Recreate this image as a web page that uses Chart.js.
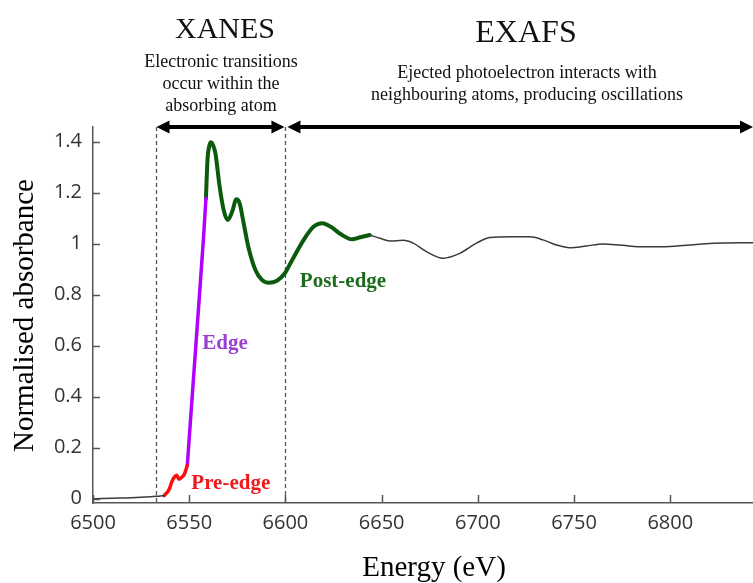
<!DOCTYPE html>
<html>
<head>
<meta charset="utf-8">
<title>XANES and EXAFS regions</title>
<script src="https://cdn.jsdelivr.net/npm/chart.js@4.4.1/dist/chart.umd.min.js"></script>
<style>
  html, body { margin: 0; padding: 0; background: #fff; }
  #wrap { width: 753px; height: 583px; }
</style>
</head>
<body>
<div id="wrap"><canvas id="xasChart" width="753" height="583"></canvas></div>
<script>
// Normalised absorbance vs energy (eV), split into the coloured regions of the spectrum
const baselineEnergy = [6500, 6510, 6520, 6530, 6535, 6537];
const baselineAbs    = [0.000, 0.002, 0.004, 0.008, 0.011, 0.012];

const preEdgeEnergy = [6537, 6539.6, 6540.8, 6542.2, 6543.5, 6544.7, 6546.1, 6547.4, 6549.0];
const preEdgeAbs    = [0.012, 0.037, 0.063, 0.084, 0.092, 0.076, 0.084, 0.095, 0.130];

const edgeEnergy = [6549.0, 6550.6, 6552.4, 6554.2, 6556.0, 6557.4, 6558.7];
const edgeAbs    = [0.130, 0.300, 0.490, 0.680, 0.870, 1.020, 1.178];

const postEdgeEnergy = [6558.7, 6559.5, 6560.5, 6561.3, 6562.2, 6563.6, 6565.8, 6567.9, 6570.0,
                        6572.3, 6574.5, 6576.2, 6578.3, 6580.9, 6584.4, 6587.8, 6591.3, 6595.6,
                        6599.7, 6602.6, 6609.5, 6614.7, 6619.1, 6623.4, 6628.6, 6634.6, 6638.9, 6643.8];
const postEdgeAbs    = [1.178, 1.328, 1.385, 1.398, 1.390, 1.355, 1.224, 1.132, 1.093,
                        1.125, 1.174, 1.158, 1.080, 0.982, 0.897, 0.858, 0.847, 0.855,
                        0.884, 0.923, 1.015, 1.067, 1.080, 1.067, 1.038, 1.017, 1.025, 1.034];

const tailEnergy = [6643.8, 6649.1, 6654.3, 6661.2, 6666.4, 6673.3, 6682.0, 6690.6, 6699.3, 6706.2,
                    6718.3, 6727.0, 6733.9, 6740.8, 6747.8, 6756.4, 6765.1, 6773.7, 6784.2, 6796.3,
                    6808.4, 6822.3, 6843.0];
const tailAbs    = [1.034, 1.021, 1.011, 1.013, 1.002, 0.969, 0.943, 0.962, 1.002, 1.024,
                    1.027, 1.027, 1.015, 0.995, 0.984, 0.991, 0.999, 0.995, 0.988, 0.988,
                    0.994, 1.002, 1.004];

const xTicks = [6500, 6550, 6600, 6650, 6700, 6750, 6800];
const yTicks = [0, 0.2, 0.4, 0.6, 0.8, 1, 1.2, 1.4];

// XANES runs between the two dashed lines, EXAFS from the second one onwards
const regionBounds = [6533, 6600];

const regionLabels = ['Pre-edge', 'Edge', 'Post-edge'];
const regionLabelEnergy = [6551.1, 6556.8, 6607.5];
const regionLabelAbs = [0.038, 0.587, 0.831];
const regionLabelColors = ['#f01818', '#9a3fd0', '#1d6b1d'];

function points(xs, ys) {
    return xs.map((x, i) => ({ x: x, y: ys[i] }));
}

function drawArrow(ctx, x1, x2, y) {
    const head = 13, half = 6.5;
    ctx.beginPath();
    ctx.moveTo(x1 + head - 2, y);
    ctx.lineTo(x2 - head + 2, y);
    ctx.stroke();
    ctx.beginPath();
    ctx.moveTo(x1, y);
    ctx.lineTo(x1 + head, y - half);
    ctx.lineTo(x1 + head, y + half);
    ctx.closePath();
    ctx.fill();
    ctx.beginPath();
    ctx.moveTo(x2, y);
    ctx.lineTo(x2 - head, y - half);
    ctx.lineTo(x2 - head, y + half);
    ctx.closePath();
    ctx.fill();
}

const decorations = {
    id: 'decorations',
    beforeDatasetsDraw(chart) {
        const { ctx, chartArea, scales: { x } } = chart;
        ctx.save();
        ctx.strokeStyle = '#555';
        ctx.lineWidth = 1.3;
        ctx.setLineDash([4, 3]);
        regionBounds.forEach(e => {
            const px = Math.round(x.getPixelForValue(e)) + 0.5;
            ctx.beginPath();
            ctx.moveTo(px, chartArea.top);
            ctx.lineTo(px, chartArea.bottom);
            ctx.stroke();
        });
        ctx.restore();
    },
    afterDraw(chart) {
        const { ctx, chartArea, scales: { x, y } } = chart;
        ctx.save();

        // short inward tick marks
        ctx.strokeStyle = '#555';
        ctx.lineWidth = 1.5;
        xTicks.forEach(v => {
            const px = Math.round(x.getPixelForValue(v)) + 0.5;
            ctx.beginPath();
            ctx.moveTo(px, chartArea.bottom);
            ctx.lineTo(px, chartArea.bottom - 8);
            ctx.stroke();
        });
        yTicks.forEach(v => {
            const py = Math.round(y.getPixelForValue(v)) + 0.5;
            ctx.beginPath();
            ctx.moveTo(chartArea.left, py);
            ctx.lineTo(chartArea.left + 7, py);
            ctx.stroke();
        });

        // region arrows along the top
        ctx.strokeStyle = '#000';
        ctx.fillStyle = '#000';
        ctx.lineWidth = 4;
        const ay = chartArea.top;
        const xa = x.getPixelForValue(regionBounds[0]);
        const xb = x.getPixelForValue(regionBounds[1]);
        drawArrow(ctx, xa, xb - 1, ay);
        drawArrow(ctx, xb + 2, chartArea.right, ay);

        // headings
        ctx.fillStyle = '#111';
        ctx.textAlign = 'center';
        ctx.textBaseline = 'alphabetic';
        ctx.font = '30px "Liberation Serif"';
        ctx.fillText('XANES', 225, 38);
        ctx.font = '32px "Liberation Serif"';
        ctx.fillText('EXAFS', 526, 42);
        ctx.font = '18px "Liberation Serif"';
        ctx.fillText('Electronic transitions', 221, 67);
        ctx.fillText('occur within the', 221, 89);
        ctx.fillText('absorbing atom', 221, 111);
        ctx.fillText('Ejected photoelectron interacts with', 527, 78);
        ctx.fillText('neighbouring atoms, producing oscillations', 527, 100);

        // region names beside the curve
        ctx.textAlign = 'left';
        ctx.font = 'bold 21px "Liberation Serif"';
        regionLabels.forEach((t, i) => {
            ctx.fillStyle = regionLabelColors[i];
            ctx.fillText(t, x.getPixelForValue(regionLabelEnergy[i]), y.getPixelForValue(regionLabelAbs[i]));
        });

        // axis titles
        ctx.fillStyle = '#000';
        ctx.textAlign = 'center';
        ctx.font = '29px "Liberation Serif"';
        ctx.fillText('Energy (eV)', 434, 576);
        ctx.translate(33, 315.5);
        ctx.rotate(-Math.PI / 2);
        ctx.font = '29px "Liberation Serif"';
        ctx.fillText('Normalised absorbance', 0, 0);
        ctx.restore();
    }
};

const tickFont = { family: '"Open Sans"', size: 20 };

new Chart(document.getElementById('xasChart'), {
    type: 'line',
    data: {
        datasets: [
            { data: points(baselineEnergy, baselineAbs), borderColor: '#3a3a3a', borderWidth: 1.5 },
            { data: points(tailEnergy, tailAbs), borderColor: '#3a3a3a', borderWidth: 1.5 },
            { data: points(preEdgeEnergy, preEdgeAbs), borderColor: '#ff0d0d', borderWidth: 3.5 },
            { data: points(edgeEnergy, edgeAbs), borderColor: '#b000ff', borderWidth: 3.5 },
            { data: points(postEdgeEnergy, postEdgeAbs), borderColor: '#0c5a0c', borderWidth: 4 }
        ]
    },
    options: {
        responsive: false,
        animation: false,
        devicePixelRatio: 1,
        layout: { padding: { top: 127, right: 0, left: 0, bottom: 0 } },
        elements: {
            point: { radius: 0 },
            line: { cubicInterpolationMode: 'monotone', borderCapStyle: 'round', borderJoinStyle: 'round' }
        },
        plugins: { legend: { display: false }, tooltip: { enabled: false } },
        scales: {
            x: {
                type: 'linear',
                min: 6500,
                max: 6843,
                grid: { display: false, drawTicks: false },
                border: { color: '#555', width: 1.5 },
                afterBuildTicks: s => { s.ticks = xTicks.map(v => ({ value: v })); },
                afterFit: s => { s.height = 80; },
                ticks: {
                    padding: 8,
                    color: '#333',
                    font: tickFont,
                    maxRotation: 0,
                    autoSkip: false,
                    callback: v => String(v)
                }
            },
            y: {
                type: 'linear',
                min: -0.0169,
                max: 1.4576,
                grid: { display: false, drawTicks: false },
                border: { color: '#555', width: 1.5 },
                afterBuildTicks: s => { s.ticks = yTicks.map(v => ({ value: v })); },
                afterFit: s => { s.width = 93; },
                ticks: {
                    padding: 11,
                    color: '#333',
                    font: tickFont,
                    autoSkip: false,
                    callback: v => String(+v.toFixed(1))
                }
            }
        }
    },
    plugins: [decorations]
});
</script>
</body>
</html>
